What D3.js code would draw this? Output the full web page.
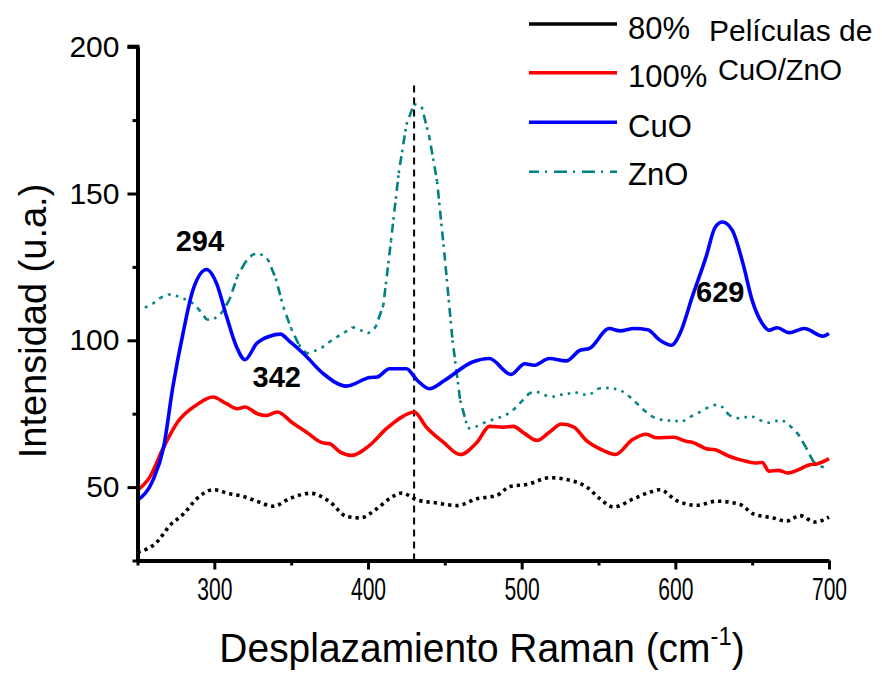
<!DOCTYPE html>
<html><head><meta charset="utf-8">
<script src="https://cdn.jsdelivr.net/npm/d3@7/dist/d3.min.js"></script>
<style>body{margin:0;background:#fff} text{font-family:"Liberation Sans",Arial,sans-serif;fill:#000}</style>
</head><body><svg id="c" width="882" height="673"></svg>
<script>
// ---------- data ----------
const cuoX=[250,260,267,273,280,286,295,301.5,308,314.5,320,327.5,336,343,349,358,371,386,401,406,414,425,432,440,450,468,479,493,502,508,518,529,538,544,557,564,573,582,590,597.5,603,611,620,626,630.6,637,644,650,656.6,661,666.4,674,684,696,700];
const cuoY=[45.5,52.3,63.6,84.1,103.4,117,124.1,119.3,108,97.7,93.4,98.9,101.4,102.1,99.6,95.5,88.6,84.4,87.3,87.5,90.3,90.3,86.4,83.5,86.4,92.6,93.8,88.4,92,91.5,93.8,93,96.6,97.2,104,103.2,104,103.6,100,98.3,102.3,114.8,128.4,138.6,140.3,137.5,126.2,113.6,105.7,103.4,104.3,102.6,104,101.4,102.3];

const p100X=[250,258,267,276,289,299,308,315,320,328,334,341,351,360,371,375,382,389,401,412,423,430,438,449,460,471,479,488,494.5,502,510,518,526,534,542,553,561,572,581,588,599,607,611,620,626,635,643.5,652,656.5,661,667,673,680,688,692,700];
const p100Y=[48.9,53.4,63.6,72.1,78.2,80.7,78.4,76.7,77.3,75,74.4,75.6,71.8,68.7,65,64.8,61.9,60.8,64.2,69.9,74.2,75.6,70.4,65.3,61.1,65.3,70.7,70.4,70.7,68.2,65.9,68.7,71.5,70.4,65.9,62.5,61.1,66.1,68,66.8,67,65.6,65.3,63.1,62.7,60.5,59.1,58.2,58.4,55.4,55.7,54.8,55.9,57.7,57.9,59.7];

const p80X=[250,262.5,271,280,288.5,299.4,310,319,327.6,338.4,349.4,362.4,375.4,386,395,405.7,414.4,422,431.8,444.8,457.8,470.8,483.8,492.5,503.4,518.5,531.5,542.4,551,559.7,572.7,583.5,590,600.9,613.9,626.9,642,650.7,663.7,672.4,681,690.8,700];
const p80Y=[27.8,31.2,36.9,40.9,46,49.1,47.7,46.8,45.2,43.5,46.2,47.9,44.9,40,39.5,42.6,46.2,48,45.7,44.6,43.7,46,47.2,50.2,50.9,53.2,52.3,50,46,43.2,46,48.3,49.1,45.4,43.8,45.2,44.1,40.9,39.5,38.4,40.3,38.1,39.8];

const znoX=[250,255,260,265,270,275,280,285,290,295,300,305,310,315,320,325,330,335,340,345,350,355,360,365,370,375,380,385,390,395,400,405,410,415,420,425,430,435,440,445,450,455,460,465,470,475,480,485,490,495,500,505,510,515,520,525,530,535,540,545,550,555,560,565,570,575,580,585,590,595,600,605,610,615,620,625,630,635,640,645,650,655,660,665,670,675,680,685,690,695,700];
const znoY=[110,111.2,112.5,114.5,115.7,115.2,114.2,113,110.5,107,107.3,109.5,114,121.8,126.5,129.3,129.4,127.4,121,111.2,104,98.5,95.5,96.3,97.5,99.5,101.2,102.8,104.5,103.5,102.3,104.5,112,134,157,173.5,180.5,179.5,169,154,128,100,79.5,70,70.5,71.8,72.8,73.6,74.6,76.5,79.2,82,82.5,81.3,80.7,81.4,81.8,82.3,81.5,81.7,83.6,83.8,83.6,82.8,80.9,78.5,76,74,73,72.7,72.5,72.4,74,75.3,76.8,78,77.6,74.5,73.4,73.8,74.1,72.8,71.8,72.5,72.7,70.7,68,63.5,58.5,57,56.2];

const xMajor=[300,400,500,600,700], xMinor=[250,350,450,550,650];
const yMajor=[50,100,150,200], yMinor=[25,75,125,175];
const legendLabels=["80%","100%","CuO","ZnO"];
const legendColors=["#000000","#ff0000","#0000ff","#008080"];
const peakLabels=["294","342","629"];
const markerShift=430;

// ---------- layout ----------
const svg=d3.select("#c");
const x=d3.scaleLinear().domain([250,700]).range([137.5,829]);
const y=d3.scaleLinear().domain([25,200]).range([560.5,46.7]);
const font='"Liberation Sans",Arial,sans-serif';

// vertical marker
svg.append("line").attr("x1",x(markerShift)).attr("x2",x(markerShift))
  .attr("y1",y(25)).attr("y2",y(188.5)).attr("stroke","#000").attr("stroke-width",2)
  .attr("stroke-dasharray","7,5");

const line=(xs,ys)=>d3.line().curve(d3.curveMonotoneX).x((d,i)=>x(xs[i])).y((d,i)=>y(ys[i]))(ys);

// ZnO: segment-wise dash-dot (pattern restarts each segment)
const zg=svg.append("g");
for(let i=0;i<znoX.length-1;i++){
  zg.append("path").attr("d",`M${x(znoX[i])},${y(znoY[i])}L${x(znoX[i+1])},${y(znoY[i+1])}`)
    .attr("fill","none").attr("stroke","#008080").attr("stroke-width",2.6)
    .attr("stroke-dasharray","2.5,5.5,9,4");
}
// 80% dotted
svg.append("path").attr("d",line(p80X,p80Y)).attr("fill","none").attr("stroke","#000")
  .attr("stroke-width",3.6).attr("stroke-dasharray","3.3,4");
// 100%
svg.append("path").attr("d",line(p100X,p100Y)).attr("fill","none").attr("stroke","#ff0000")
  .attr("stroke-width",3.6).attr("stroke-linejoin","round");
// CuO
svg.append("path").attr("d",line(cuoX,cuoY)).attr("fill","none").attr("stroke","#0000ff")
  .attr("stroke-width",3.6).attr("stroke-linejoin","round");

// axes
const ax=svg.append("g").attr("transform",`translate(0,${y(25)})`)
  .call(d3.axisBottom(x).tickValues(xMajor).tickSize(9).tickSizeOuter(0).tickFormat(d3.format("d")));
ax.select(".domain").attr("stroke-width",4);
ax.selectAll(".tick line").attr("stroke-width",3);
ax.selectAll(".tick text").attr("font-size",31).attr("font-family",font).attr("y",18).attr("dy","0.71em")
  .attr("transform","scale(0.68,1)");
svg.append("g").attr("transform",`translate(0,${y(25)})`)
  .call(d3.axisBottom(x).tickValues(xMinor).tickSize(5).tickSizeOuter(0).tickFormat(""))
  .call(g=>{g.select(".domain").remove();g.selectAll(".tick line").attr("stroke-width",3);});

const ay=svg.append("g").attr("transform",`translate(${x(250)},0)`)
  .call(d3.axisLeft(y).tickValues(yMajor).tickSize(10).tickSizeOuter(0).tickFormat(d3.format("d")));
ay.select(".domain").attr("stroke-width",4);
ay.selectAll(".tick line").attr("stroke-width",3);
ay.selectAll(".tick text").attr("font-size",30).attr("font-family",font).attr("x",-18);
svg.append("g").attr("transform",`translate(${x(250)},0)`)
  .call(d3.axisLeft(y).tickValues(yMinor).tickSize(5).tickSizeOuter(0).tickFormat(""))
  .call(g=>{g.select(".domain").remove();g.selectAll(".tick line").attr("stroke-width",3);});
// top cap
svg.append("line").attr("x1",x(250)-10).attr("x2",x(250)+2).attr("y1",y(200)).attr("y2",y(200))
  .attr("stroke","#000").attr("stroke-width",4);

// axis titles
const xt=svg.append("text").attr("transform","translate(482,662) scale(0.95,1)")
  .attr("text-anchor","middle").attr("font-size",41).attr("font-family",font);
xt.append("tspan").text("Desplazamiento Raman (cm");
xt.append("tspan").text("-1").attr("font-size",25).attr("dy",-17);
xt.append("tspan").text(")").attr("dy",17);
svg.append("text").attr("transform","translate(46,321) rotate(-90)").attr("text-anchor","middle")
  .attr("font-size",38).attr("font-family",font).text("Intensidad (u.a.)");

// peak labels
const pl=[[290.6,130.4],[340.6,84.1],[629.2,113]];
peakLabels.forEach((t,i)=>svg.append("text").attr("x",x(pl[i][0])).attr("y",y(pl[i][1]))
  .attr("text-anchor","middle").attr("font-weight","bold").attr("font-size",29).attr("font-family",font).text(t));

// legend
const ly=[24,72.7,122.3,171.7], lb=[39.3,87,136.5,185];
legendLabels.forEach((t,i)=>{
  const l=svg.append("line").attr("x1",529).attr("x2",617).attr("y1",ly[i]).attr("y2",ly[i])
    .attr("stroke",legendColors[i]).attr("stroke-width",3.4);
  if(i===3) l.attr("stroke-dasharray","13,6,2,7").attr("stroke-dashoffset",3).attr("stroke-width",2.6);
  svg.append("text").attr("x",628).attr("y",lb[i]).attr("font-size",31).attr("font-family",font).text(t);
});
svg.append("text").attr("x",709).attr("y",41).attr("font-size",30).attr("font-family",font).text("Películas de");
svg.append("text").attr("x",718).attr("y",80).attr("font-size",29).attr("font-family",font).text("CuO/ZnO");
</script></body></html>
